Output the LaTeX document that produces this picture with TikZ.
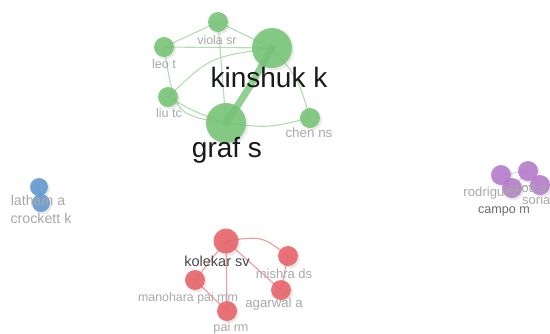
\documentclass[tikz,border=0pt]{standalone}
\usepackage{fontspec}
\setmainfont{Liberation Sans}
\usetikzlibrary{shadows,backgrounds}

\definecolor{cgreen}{RGB}{118,196,118}
\definecolor{cgreenedge}{RGB}{150,210,150}
\definecolor{cred}{RGB}{232,98,104}
\definecolor{crededge}{RGB}{236,130,134}
\definecolor{cblue}{RGB}{96,152,208}
\definecolor{cpurple}{RGB}{182,122,204}
\definecolor{labgray}{RGB}{168,168,168}
\definecolor{labdark}{RGB}{70,70,70}

\tikzset{
  bubble/.style={circle, inner sep=0pt, draw=none, fill opacity=0.88,
    circular drop shadow={shadow xshift=1.2pt, shadow yshift=-1.5pt, opacity=0.18}},
  gnode/.style={bubble, fill=cgreen},
  rnode/.style={bubble, fill=cred},
  bnode/.style={bubble, fill=cblue},
  pnode/.style={bubble, fill=cpurple},
  gedge/.style={draw=cgreenedge, line width=1.1pt, opacity=0.75},
  gthick/.style={draw=cgreen, line width=7pt, opacity=0.8, line cap=round},
  redge/.style={draw=crededge, line width=1.1pt, opacity=0.8},
  bedge/.style={draw=cblue, line width=1pt, opacity=0.6},
  pedge/.style={draw=cpurple!70!white, line width=0.9pt, opacity=0.6},
  lab/.style={anchor=base, inner sep=0pt, text=labgray},
  biglab/.style={anchor=base, inner sep=0pt, text=black!90, font=\fontsize{28}{30}\selectfont},
}

\begin{document}
\begin{tikzpicture}[x=1pt, y=-1pt]
\useasboundingbox (0,0) rectangle (550,333);
\clip (0,0) rectangle (550,333);

% green cluster
\node[gnode, minimum size=20pt] (viola)   at (218,22)  {};
\node[gnode, minimum size=20pt] (leo)     at (164,47)  {};
\node[gnode, minimum size=40pt] (kinshuk) at (272,48)  {};
\node[gnode, minimum size=20pt] (liu)     at (168,97)  {};
\node[gnode, minimum size=40pt] (graf)    at (226,123) {};
\node[gnode, minimum size=20pt] (chen)    at (310,118) {};

% red cluster
\node[rnode, minimum size=25pt] (kolekar)  at (226,241) {};
\node[rnode, minimum size=20pt] (mishra)   at (288,256) {};
\node[rnode, minimum size=20pt] (manohara) at (195,280) {};
\node[rnode, minimum size=20pt] (agarwal)  at (281,290) {};
\node[rnode, minimum size=20pt] (pairm)    at (227,311) {};

% blue cluster
\node[bnode, minimum size=18pt] (latham)   at (39,187) {};
\node[bnode, minimum size=18pt] (crockett) at (41,203) {};

% purple cluster
\node[pnode, minimum size=20pt] (rodriguez) at (501,175) {};
\node[pnode, minimum size=20pt] (scott)     at (528,171) {};
\node[pnode, minimum size=20pt] (soria)     at (540,185) {};
\node[pnode, minimum size=20pt] (campo)     at (512,188) {};

\begin{pgfonlayer}{background}
  % green links
  \draw[gedge] (viola.center) -- (leo.center);
  \draw[gedge] (viola.center) -- (kinshuk.center);
  \draw[gedge] (viola.center) -- (graf.center);
  \draw[gedge] (leo.center) -- (kinshuk.center);
  \draw[gedge] (leo.center) .. controls (175,115) .. (graf.center);
  \draw[gedge] (liu.center) .. controls (210,57) .. (kinshuk.center);
  \draw[gedge] (liu.center) .. controls (195,112) .. (graf.center);
  \draw[gedge] (kinshuk.center) .. controls (298,78) .. (chen.center);
  \draw[gedge] (graf.center) .. controls (268,128) .. (chen.center);
  \draw[gthick] (graf.center) .. controls (248,90) .. (kinshuk.center);
  % red links
  \draw[redge] (kolekar.center) -- (manohara.center);
  \draw[redge] (kolekar.center) -- (pairm.center);
  \draw[redge] (kolekar.center) .. controls (262,236) .. (mishra.center);
  \draw[redge] (kolekar.center) -- (agarwal.center);
  \draw[redge] (manohara.center) -- (pairm.center);
  \draw[redge] (mishra.center) -- (agarwal.center);
  % blue link
  \draw[bedge] (latham.center) -- (crockett.center);
  % purple links
  \draw[pedge] (rodriguez.center) -- (campo.center);
  \draw[pedge] (scott.center) -- (campo.center);
  \draw[pedge] (soria.center) -- (campo.center);
  \draw[pedge] (scott.center) -- (soria.center);
  \draw[pedge] (rodriguez.center) -- (scott.center);
\end{pgfonlayer}

% labels
\node[lab, font=\fontsize{12.4}{14}\selectfont] (violaL) at (217,44) {viola sr};
\node[lab, font=\fontsize{12.6}{14}\selectfont] (leoL)   at (164,68) {leo t};
\node[lab, font=\fontsize{12.6}{14}\selectfont] (liuL)   at (169,117) {liu tc};
\node[lab, font=\fontsize{13.4}{15}\selectfont] (chenL)  at (309,137) {chen ns};
\node[biglab] (kinshukL) at (269,87) {kinshuk k};
\node[biglab] (grafL)    at (227,157) {graf s};

\node[lab, text=labdark, font=\fontsize{14.5}{16}\selectfont] (kolekarL) at (217,266) {kolekar sv};
\node[lab, font=\fontsize{13}{15}\selectfont] (mishraL)   at (284,278) {mishra ds};
\node[lab, font=\fontsize{12.4}{14}\selectfont] (manoharaL) at (188,301) {manohara pai mm};
\node[lab, font=\fontsize{13.2}{15}\selectfont] (agarwalL)  at (274,307) {agarwal a};
\node[lab, font=\fontsize{12.6}{14}\selectfont] (pairmL)    at (231,331) {pai rm};

\node[lab, font=\fontsize{14.2}{16}\selectfont] (lathamL)   at (38,205) {latham a};
\node[lab, font=\fontsize{14.2}{16}\selectfont] (crockettL) at (41,223) {crockett k};

\node[lab, font=\fontsize{13.2}{15}\selectfont] (rodriguezL) at (491,196) {rodriguez};
\node[lab, anchor=base west, font=\fontsize{13.2}{15}\selectfont] (scottL) at (508,192) {scott e};
\node[lab, anchor=base west, font=\fontsize{13}{15}\selectfont] (soriaL) at (522,204) {soria};
\node[lab, text=labdark!80, font=\fontsize{12.6}{14}\selectfont] (campoL) at (504,213) {campo m};
\end{tikzpicture}
\end{document}
